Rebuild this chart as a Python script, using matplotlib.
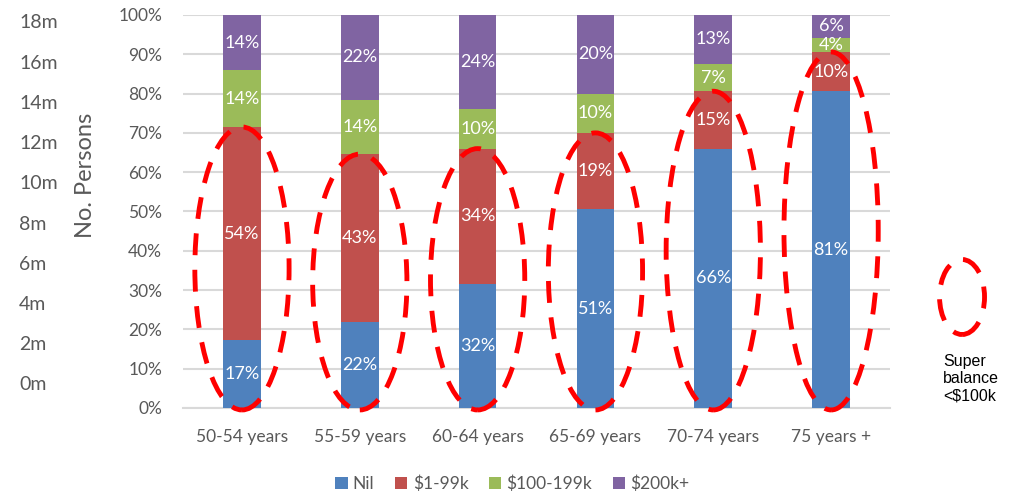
import numpy as np
import matplotlib
matplotlib.use("Agg")
from matplotlib import pyplot as plt
import matplotlib.patches as patches

# data
categories = ['50-54 years', '55-59 years', '60-64 years', '65-69 years', '70-74 years', '75 years +']
series_names = ['Nil', '$1-99k', '$100-199k', '$200k+']
nil = [17.2, 21.8, 31.6, 50.6, 65.9, 80.6]
low = [54.3, 42.8, 34.4, 19.4, 14.7, 10.0]
mid = [14.4, 13.8, 10.1, 10.0, 6.9, 3.6]
high = [14.1, 21.6, 23.9, 20.0, 12.6, 5.8]
persons_ticks = [0, 2, 4, 6, 8, 10, 12, 14, 16, 18]
pct_ticks = [0, 10, 20, 30, 40, 50, 60, 70, 80, 90, 100]

colors = ['#4F81BD', '#C0504D', '#9BBB59', '#8064A2']
gray = '#595959'

plt.rcParams['font.family'] = ['Lato', 'DejaVu Sans']

fig = plt.figure(figsize=(10.13, 4.95), dpi=100)
ax = fig.add_axes([0.1807, 0.1758, 0.6979, 0.7939])

x = np.arange(len(categories))
bottom = np.zeros(len(categories))
for name, vals, col in zip(series_names, [nil, low, mid, high], colors):
    vals = np.array(vals)
    ax.bar(x, vals, 0.32, bottom=bottom, color=col, label=name, zorder=3)
    for xi, b, v in zip(x, bottom, vals):
        ax.text(xi, b + v / 2, f'{v:.0f}%', ha='center', va='center',
                color='white', fontsize=13, zorder=4)
    bottom = bottom + vals

# dashed ellipses around the under-$100k part
for xi, n, l in zip(x, nil, low):
    top = n + l
    e = patches.Ellipse((xi, (top - 0.5) / 2), 0.8, top + 0.5, fill=False,
                        edgecolor='#FF0000', lw=3.5, linestyle=(0, (4.5, 3)),
                        zorder=5, clip_on=False)
    ax.add_patch(e)

ax.set_xlim(-0.5, 5.5)
ax.set_ylim(0, 100)
ax.set_yticks(pct_ticks)
ax.set_yticklabels([f'{t}%' for t in pct_ticks])
ax.set_xticks(x)
ax.set_xticklabels(categories)
ax.tick_params(axis='y', length=0, pad=15, labelsize=12.5, labelcolor=gray)
ax.tick_params(axis='x', length=0, pad=15, labelsize=12.5, labelcolor=gray)
ax.grid(axis='y', color='#D9D9D9', lw=1.5, zorder=0)
for s in ['top', 'right', 'left']:
    ax.spines[s].set_visible(False)
ax.spines['bottom'].set_color('#D9D9D9')
ax.spines['bottom'].set_linewidth(1.5)

# the second (persons) axis left over on the left side
y0, y1 = 1 - 385 / 495, 1 - 23 / 495
for t in persons_ticks:
    yy = y0 + (y1 - y0) * t / persons_ticks[-1]
    fig.text(0.019, yy, f'{t}m', ha='left', va='center', fontsize=14, color=gray)
fig.text(0.084, 0.646, 'No. Persons', rotation=90, ha='center', va='center',
         fontsize=17, color=gray)

# legend for the ellipse
fig.patches.append(patches.Ellipse((0.9497, 0.40), 0.0444, 0.1515, fill=False,
                                   edgecolor='#FF0000', lw=3.5, linestyle=(0, (4.5, 3)),
                                   transform=fig.transFigure))
fig.text(0.931, 0.285, 'Super\nbalance\n<$100k', ha='left', va='top', fontsize=11.5,
         family='Liberation Sans', color='black', linespacing=1.2)

fig.legend(loc='center', bbox_to_anchor=(0.506, 0.022), ncol=4, frameon=False,
           fontsize=12.5, handlelength=0.7, handleheight=0.7, handletextpad=0.3,
           columnspacing=1.2, labelcolor=gray)

fig.savefig('out.png', dpi=100)
